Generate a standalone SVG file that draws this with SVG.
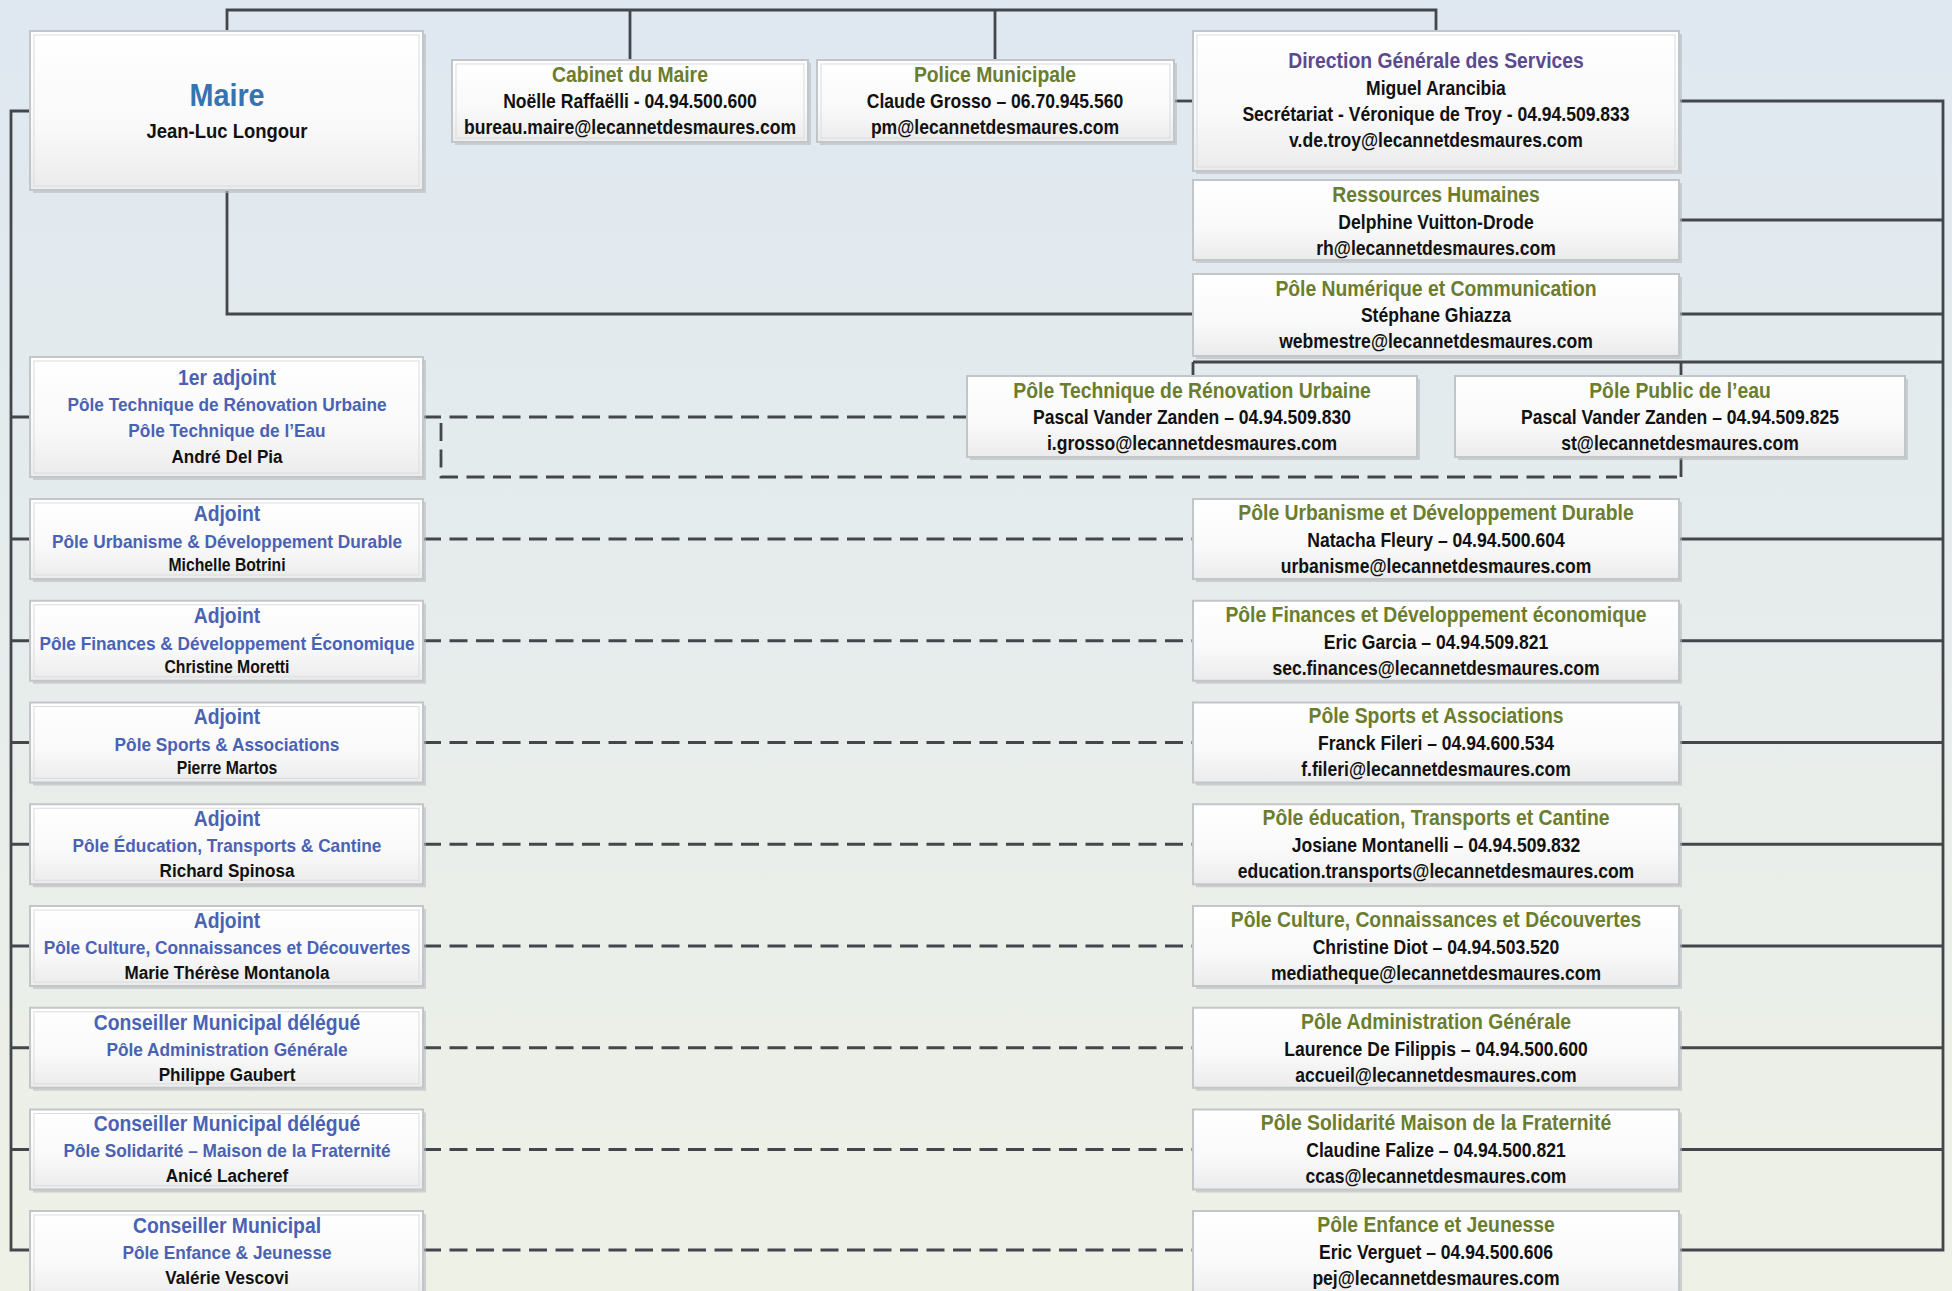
<svg xmlns="http://www.w3.org/2000/svg" width="1952" height="1291" viewBox="0 0 1952 1291">
<defs>
<linearGradient id="bg" x1="0" y1="0" x2="0" y2="1">
<stop offset="0" stop-color="#dfe8f1"/>
<stop offset="1" stop-color="#eef1e6"/>
</linearGradient>
<linearGradient id="bf" x1="0" y1="0" x2="0" y2="1">
<stop offset="0" stop-color="#ffffff"/>
<stop offset="0.6" stop-color="#f9f9f9"/>
<stop offset="1" stop-color="#ebebeb"/>
</linearGradient>
<style>
.sh{fill:#b5b9be;opacity:0.6}
.bx{fill:url(#bf);stroke:#c3c6c9;stroke-width:2}
.in{fill:none;stroke:#dcdcdc;stroke-width:1}
text{font-family:"Liberation Sans",Arial,sans-serif;font-weight:bold;text-anchor:middle}
.tb{fill:#4a62b3;font-size:21.5px}
.lb{fill:#4a62b3;font-size:19.2px}
.tg{fill:#6b7d2e;font-size:21.5px}
.tp{fill:#5b4a8f;font-size:21.5px}
.n{fill:#111;font-size:19.5px}
.nl{fill:#111;font-size:19px}
.ns{fill:#111;font-size:17.5px}
.s{fill:none;stroke:#43474c;stroke-width:2.8}
.d{fill:none;stroke:#43474c;stroke-width:2.8;stroke-dasharray:18 8.5}
</style>
</defs>
<rect x="0" y="0" width="1952" height="1291" fill="url(#bg)"/>

<g id="connectors">
<path class="s" d="M227,31 V10 H1436 V31 M630,10 V60 M995,10 V60"/>
<path class="s" d="M1174,101 H1193"/>
<path class="s" d="M227,190 V314 H1193"/>
<path class="s" d="M1679,101 H1943 V1250 H1679"/>
<path class="s" d="M1679,220 H1943 M1679,314 H1943 M1193,362 H1943 M1193,362 V376 M1681,362 V376 M1681,457 V477"/>
<path class="s" d="M1679,539 H1943 M1679,640.75 H1943 M1679,742.5 H1943 M1679,844.25 H1943 M1679,946 H1943 M1679,1047.75 H1943 M1679,1149.5 H1943"/>
<path class="s" d="M30,111 H11 V1250 H30"/>
<path class="s" d="M11,417 H30 M11,539 H30 M11,640.75 H30 M11,742.5 H30 M11,844.25 H30 M11,946 H30 M11,1047.75 H30 M11,1149.5 H30"/>
<path class="d" d="M423,417 H967"/>
<path class="d" d="M441,423 V477 H1681"/>
<path class="d" d="M423,539 H1193 M423,640.75 H1193 M423,742.5 H1193 M423,844.25 H1193 M423,946 H1193 M423,1047.75 H1193 M423,1149.5 H1193 M423,1250 H1193"/>
</g>

<g id="maire">
<rect class="sh" x="33" y="34" width="393" height="159"/>
<rect class="bx" x="30" y="31" width="393" height="159"/>
<rect class="in" x="34" y="35" width="385" height="151"/>
<g transform="translate(227,0) scale(0.9,1)">
<text y="106" style="fill:#3573b3;font-size:32px">Maire</text>
<text y="138" class="n" style="font-size:20.5px">Jean-Luc Longour</text>
</g>
</g>

<g id="cabinet">
<rect class="sh" x="455" y="63" width="356" height="82"/>
<rect class="bx" x="452" y="60" width="356" height="82"/>
<rect class="in" x="456" y="64" width="348" height="74"/>
<g transform="translate(630,0) scale(0.9,1)">
<text y="82" class="tg">Cabinet du Maire</text>
<text y="108" class="n">Noëlle Raffaëlli - 04.94.500.600</text>
<text y="134" class="n">bureau.maire@lecannetdesmaures.com</text>
</g>
</g>

<g id="police">
<rect class="sh" x="820" y="63" width="357" height="82"/>
<rect class="bx" x="817" y="60" width="357" height="82"/>
<rect class="in" x="821" y="64" width="349" height="74"/>
<g transform="translate(995,0) scale(0.9,1)">
<text y="82" class="tg">Police Municipale</text>
<text y="108" class="n">Claude Grosso – 06.70.945.560</text>
<text y="134" class="n">pm@lecannetdesmaures.com</text>
</g>
</g>

<g id="dgs">
<rect class="sh" x="1196" y="34" width="486" height="140"/>
<rect class="bx" x="1193" y="31" width="486" height="140"/>
<rect class="in" x="1197" y="35" width="478" height="132"/>
<g transform="translate(1436,0) scale(0.9,1)">
<text y="68" class="tp">Direction Générale des Services</text>
<text y="95" class="n">Miguel Arancibia</text>
<text y="121" class="n">Secrétariat - Véronique de Troy - 04.94.509.833</text>
<text y="147" class="n">v.de.troy@lecannetdesmaures.com</text>
</g>
</g>

<g id="rh">
<rect class="sh" x="1196" y="183" width="486" height="80"/>
<rect class="bx" x="1193" y="180" width="486" height="80"/>
<g transform="translate(1436,0) scale(0.9,1)">
<text y="202" class="tg">Ressources Humaines</text>
<text y="229" class="n">Delphine Vuitton-Drode</text>
<text y="255" class="n">rh@lecannetdesmaures.com</text>
</g>
</g>

<g id="numerique">
<rect class="sh" x="1196" y="277" width="486" height="82"/>
<rect class="bx" x="1193" y="274" width="486" height="82"/>
<g transform="translate(1436,0) scale(0.9,1)">
<text y="296" class="tg">Pôle Numérique et Communication</text>
<text y="322" class="n">Stéphane Ghiazza</text>
<text y="348" class="n">webmestre@lecannetdesmaures.com</text>
</g>
</g>

<g id="ptru">
<rect class="sh" x="970" y="379" width="450" height="81"/>
<rect class="bx" x="967" y="376" width="450" height="81"/>
<g transform="translate(1192,0) scale(0.9,1)">
<text y="398" class="tg">Pôle Technique de Rénovation Urbaine</text>
<text y="424" class="n">Pascal Vander Zanden – 04.94.509.830</text>
<text y="450" class="n">i.grosso@lecannetdesmaures.com</text>
</g>
</g>

<g id="ppe">
<rect class="sh" x="1458" y="379" width="450" height="81"/>
<rect class="bx" x="1455" y="376" width="450" height="81"/>
<g transform="translate(1680,0) scale(0.9,1)">
<text y="398" class="tg">Pôle Public de l’eau</text>
<text y="424" class="n">Pascal Vander Zanden – 04.94.509.825</text>
<text y="450" class="n">st@lecannetdesmaures.com</text>
</g>
</g>

<g id="adj1">
<rect class="sh" x="33" y="360" width="393" height="120"/>
<rect class="bx" x="30" y="357" width="393" height="120"/>
<rect class="in" x="34" y="361" width="385" height="112"/>
<g transform="translate(227,0) scale(0.9,1)">
<text y="385" class="tb">1er adjoint</text>
<text y="411" class="lb">Pôle Technique de Rénovation Urbaine</text>
<text y="437" class="lb">Pôle Technique de l’Eau</text>
<text y="463" class="nl">André Del Pia</text>
</g>
</g>

<g id="adj-urba">
<rect class="sh" x="33" y="502" width="393" height="80"/>
<rect class="bx" x="30" y="499" width="393" height="80"/>
<rect class="in" x="34" y="503" width="385" height="72"/>
<g transform="translate(227,0) scale(0.9,1)">
<text y="521" class="tb">Adjoint</text>
<text y="548" class="lb">Pôle Urbanisme &amp; Développement Durable</text>
<text y="571" class="ns">Michelle Botrini</text>
</g>
</g>

<g id="adj-fin">
<rect class="sh" x="33" y="603.75" width="393" height="80"/>
<rect class="bx" x="30" y="600.75" width="393" height="80"/>
<rect class="in" x="34" y="604.75" width="385" height="72"/>
<g transform="translate(227,0) scale(0.9,1)">
<text y="622.75" class="tb">Adjoint</text>
<text y="649.75" class="lb">Pôle Finances &amp; Développement Économique</text>
<text y="672.75" class="ns">Christine Moretti</text>
</g>
</g>

<g id="adj-sport">
<rect class="sh" x="33" y="705.5" width="393" height="80"/>
<rect class="bx" x="30" y="702.5" width="393" height="80"/>
<rect class="in" x="34" y="706.5" width="385" height="72"/>
<g transform="translate(227,0) scale(0.9,1)">
<text y="724.5" class="tb">Adjoint</text>
<text y="751.5" class="lb">Pôle Sports &amp; Associations</text>
<text y="774.5" class="ns">Pierre Martos</text>
</g>
</g>

<g id="adj-edu">
<rect class="sh" x="33" y="807.25" width="393" height="80"/>
<rect class="bx" x="30" y="804.25" width="393" height="80"/>
<rect class="in" x="34" y="808.25" width="385" height="72"/>
<g transform="translate(227,0) scale(0.9,1)">
<text y="826.25" class="tb">Adjoint</text>
<text y="852.25" class="lb">Pôle Éducation, Transports &amp; Cantine</text>
<text y="877.25" class="nl">Richard Spinosa</text>
</g>
</g>

<g id="adj-culture">
<rect class="sh" x="33" y="909" width="393" height="80"/>
<rect class="bx" x="30" y="906" width="393" height="80"/>
<rect class="in" x="34" y="910" width="385" height="72"/>
<g transform="translate(227,0) scale(0.9,1)">
<text y="928" class="tb">Adjoint</text>
<text y="954" class="lb">Pôle Culture, Connaissances et Découvertes</text>
<text y="979" class="nl">Marie Thérèse Montanola</text>
</g>
</g>

<g id="cons-admin">
<rect class="sh" x="33" y="1010.75" width="393" height="80"/>
<rect class="bx" x="30" y="1007.75" width="393" height="80"/>
<rect class="in" x="34" y="1011.75" width="385" height="72"/>
<g transform="translate(227,0) scale(0.9,1)">
<text y="1029.75" class="tb">Conseiller Municipal délégué</text>
<text y="1055.75" class="lb">Pôle Administration Générale</text>
<text y="1080.75" class="nl">Philippe Gaubert</text>
</g>
</g>

<g id="cons-soli">
<rect class="sh" x="33" y="1112.5" width="393" height="80"/>
<rect class="bx" x="30" y="1109.5" width="393" height="80"/>
<rect class="in" x="34" y="1113.5" width="385" height="72"/>
<g transform="translate(227,0) scale(0.9,1)">
<text y="1131.5" class="tb">Conseiller Municipal délégué</text>
<text y="1157.5" class="lb">Pôle Solidarité – Maison de la Fraternité</text>
<text y="1182.5" class="nl">Anicé Lacheref</text>
</g>
</g>

<g id="cons-enf">
<rect class="sh" x="33" y="1214" width="393" height="90"/>
<rect class="bx" x="30" y="1211" width="393" height="90"/>
<rect class="in" x="34" y="1215" width="385" height="82"/>
<g transform="translate(227,0) scale(0.9,1)">
<text y="1233" class="tb">Conseiller Municipal</text>
<text y="1259" class="lb">Pôle Enfance &amp; Jeunesse</text>
<text y="1284" class="nl">Valérie Vescovi</text>
</g>
</g>

<g id="pole-urba">
<rect class="sh" x="1196" y="502" width="486" height="80"/>
<rect class="bx" x="1193" y="499" width="486" height="80"/>
<g transform="translate(1436,0) scale(0.9,1)">
<text y="520" class="tg">Pôle Urbanisme et Développement Durable</text>
<text y="547" class="n">Natacha Fleury – 04.94.500.604</text>
<text y="573" class="n">urbanisme@lecannetdesmaures.com</text>
</g>
</g>

<g id="pole-fin">
<rect class="sh" x="1196" y="603.75" width="486" height="80"/>
<rect class="bx" x="1193" y="600.75" width="486" height="80"/>
<g transform="translate(1436,0) scale(0.9,1)">
<text y="621.75" class="tg">Pôle Finances et Développement économique</text>
<text y="648.75" class="n">Eric Garcia – 04.94.509.821</text>
<text y="674.75" class="n">sec.finances@lecannetdesmaures.com</text>
</g>
</g>

<g id="pole-sport">
<rect class="sh" x="1196" y="705.5" width="486" height="80"/>
<rect class="bx" x="1193" y="702.5" width="486" height="80"/>
<g transform="translate(1436,0) scale(0.9,1)">
<text y="723.5" class="tg">Pôle Sports et Associations</text>
<text y="750.5" class="n">Franck Fileri – 04.94.600.534</text>
<text y="776.5" class="n">f.fileri@lecannetdesmaures.com</text>
</g>
</g>

<g id="pole-edu">
<rect class="sh" x="1196" y="807.25" width="486" height="80"/>
<rect class="bx" x="1193" y="804.25" width="486" height="80"/>
<g transform="translate(1436,0) scale(0.9,1)">
<text y="825.25" class="tg">Pôle éducation, Transports et Cantine</text>
<text y="852.25" class="n">Josiane Montanelli – 04.94.509.832</text>
<text y="878.25" class="n">education.transports@lecannetdesmaures.com</text>
</g>
</g>

<g id="pole-culture">
<rect class="sh" x="1196" y="909" width="486" height="80"/>
<rect class="bx" x="1193" y="906" width="486" height="80"/>
<g transform="translate(1436,0) scale(0.9,1)">
<text y="927" class="tg">Pôle Culture, Connaissances et Découvertes</text>
<text y="954" class="n">Christine Diot – 04.94.503.520</text>
<text y="980" class="n">mediatheque@lecannetdesmaures.com</text>
</g>
</g>

<g id="pole-admin">
<rect class="sh" x="1196" y="1010.75" width="486" height="80"/>
<rect class="bx" x="1193" y="1007.75" width="486" height="80"/>
<g transform="translate(1436,0) scale(0.9,1)">
<text y="1028.75" class="tg">Pôle Administration Générale</text>
<text y="1055.75" class="n">Laurence De Filippis – 04.94.500.600</text>
<text y="1081.75" class="n">accueil@lecannetdesmaures.com</text>
</g>
</g>

<g id="pole-soli">
<rect class="sh" x="1196" y="1112.5" width="486" height="80"/>
<rect class="bx" x="1193" y="1109.5" width="486" height="80"/>
<g transform="translate(1436,0) scale(0.9,1)">
<text y="1130.5" class="tg">Pôle Solidarité Maison de la Fraternité</text>
<text y="1157.5" class="n">Claudine Falize – 04.94.500.821</text>
<text y="1183.5" class="n">ccas@lecannetdesmaures.com</text>
</g>
</g>

<g id="pole-enf">
<rect class="sh" x="1196" y="1214" width="486" height="90"/>
<rect class="bx" x="1193" y="1211" width="486" height="90"/>
<g transform="translate(1436,0) scale(0.9,1)">
<text y="1232" class="tg">Pôle Enfance et Jeunesse</text>
<text y="1259" class="n">Eric Verguet – 04.94.500.606</text>
<text y="1285" class="n">pej@lecannetdesmaures.com</text>
</g>
</g>
</svg>
